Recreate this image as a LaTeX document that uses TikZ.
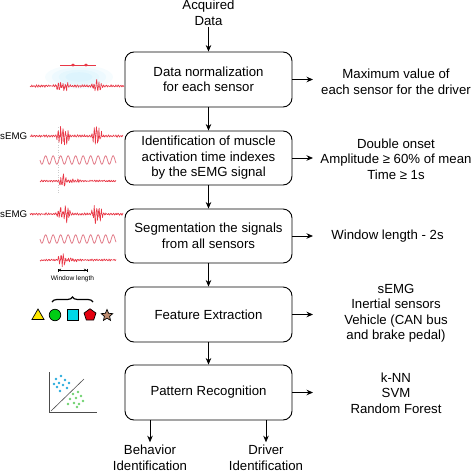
\documentclass[tikz,border=0pt]{standalone}
\usepackage{fontspec}
\setmainfont{Liberation Sans}
\usetikzlibrary{arrows.meta,shapes.geometric,decorations.pathreplacing}
\definecolor{sigred}{RGB}{232,55,70}
\definecolor{sinepink}{RGB}{226,125,138}
\definecolor{ptblue}{RGB}{40,170,220}
\definecolor{ptgreen}{RGB}{110,210,110}
\definecolor{shyellow}{RGB}{255,232,0}
\definecolor{shgreen}{RGB}{0,205,20}
\definecolor{shcyan}{RGB}{0,215,230}
\definecolor{shred}{RGB}{228,0,15}
\definecolor{shbrown}{RGB}{190,140,112}
\begin{document}
\begin{tikzpicture}[x=1pt,y=-1pt,
  box/.style={draw, line width=0.9pt, rounded corners=9pt, minimum width=167pt, align=center, font=\fontsize{13.2}{15.5}\selectfont, inner sep=0pt},
  lab/.style={align=center, font=\fontsize{13.2}{15.5}\selectfont, inner sep=1pt},
  arr/.style={-{Stealth[length=6.5pt,width=5.5pt]}, line width=0.8pt},
  sig/.style={color=sigred, line width=0.65pt, line join=round},
  sine/.style={color=sinepink, line width=0.8pt},
  small/.style={font=\fontsize{9.7}{11}\selectfont, inner sep=0pt},
  shp/.style={draw=black, line width=0.7pt, inner sep=0pt},
  dotb/.style={fill=ptblue, circle, inner sep=0pt, minimum size=2.6pt},
  dotg/.style={fill=ptgreen, circle, inner sep=0pt, minimum size=2.6pt}
]
\useasboundingbox (0,0) rectangle (474,474);

% ---------- main column ----------
\node[lab] (in) at (208.5,13) {Acquired\\Data};
\node[box, minimum height=55pt] (b1) at (208.5,79.5) {Data normalization\\for each sensor};
\node[box, minimum height=54pt] (b2) at (208.5,158) {Identification of muscle\\activation time indexes\\by the sEMG signal};
\node[box, minimum height=54pt] (b3) at (208.5,236) {Segmentation the signals\\from all sensors};
\node[box, minimum height=55pt] (b4) at (208.5,314.5) {Feature Extraction};
\node[box, minimum height=55pt] (b5) at (208.5,392.5) {Pattern Recognition};

\draw[arr] (in) -- (b1);
\draw[arr] (b1) -- (b2);
\draw[arr] (b2) -- (b3);
\draw[arr] (b3) -- (b4);
\draw[arr] (b4) -- (b5);

% ---------- right column ----------
\node[lab] (r1) at (396,82) {Maximum value of\\each sensor for the driver};
\node[lab] (r2) at (396,159) {Double onset\\Amplitude ≥ 60\% of mean\\Time ≥ 1s};
\node[lab] (r3) at (387.5,236) {Window length - 2s};
\node[lab] (r4) at (396,313.5) {sEMG\\Inertial sensors\\Vehicle (CAN bus\\and brake pedal)};
\node[lab] (r5) at (396,393) {k-NN\\SVM\\Random Forest};

\coordinate (e1) at (313,79.5);
\coordinate (e2) at (313,158);
\coordinate (e3) at (313,236);
\coordinate (e4) at (313,314.5);
\coordinate (e5) at (313,392.5);
\draw[arr] (b1.east) -- (e1);
\draw[arr] (b2.east) -- (e2);
\draw[arr] (b3.east) -- (e3);
\draw[arr] (b4.east) -- (e4);
\draw[arr] (b5.east) -- (e5);

% ---------- bottom outputs ----------
\node[lab] (beh) at (150,458) {Behavior\\Identification};
\node[lab] (drv) at (266,458) {Driver\\Identification};
\draw[arr, shorten >=2pt] (b5.south -| beh) -- (beh.north);
\draw[arr, shorten >=2pt] (b5.south -| drv) -- (drv.north);

% ---------- left illustrations ----------
\pgfmathsetseed{7}
% row 1 glow
\foreach \s in {1.0,0.8,0.6,0.4}
  \fill[cyan, opacity=0.035] (79,77) ellipse ({34*\s} and {12*\s});
\draw[sigred, line width=0.6pt] (60,65) -- (96,65);
\fill[sigred] (73,63.5) -- (75,65) -- (73,66.5) -- (71,65) -- cycle;
\fill[sigred] (86,63.5) -- (88,65) -- (86,66.5) -- (84,65) -- cycle;
\draw[sig] plot[domain=0:94, samples=260]
  ({30+\x},{86 + (1.4 + 6.5*max(0,1-(\x-32)*(\x-32)/50) + 6.5*max(0,1-(\x-67)*(\x-67)/36))*(0.55*sin(\x*150)+0.45*rand)});

% row 2
\draw[gray!40, dotted, line width=0.5pt] (58,127) -- (58,194);
\node[small, anchor=west] (lab2) at (0,136) {sEMG};
\draw[sig] plot[domain=0:93, samples=260]
  ({30+\x},{136 + (1.4 + 9.5*max(0,1-(\x-33)*(\x-33)/55) + 9*max(0,1-(\x-67)*(\x-67)/40))*(0.55*sin(\x*150)+0.45*rand)});
\draw[sine] plot[domain=40:116, samples=200] ({\x},{160 + 4.2*sin((\x-40)*48)});
\draw[sig] plot[domain=0:76, samples=220]
  ({40+\x},{181 + (1.1 + 7*max(0,1-(\x-23)*(\x-23)/22) + 1.5*max(0,1-(\x-33)*(\x-33)/60))*(0.55*sin(\x*150)+0.45*rand)});

% row 3
\node[small, anchor=west] (lab3) at (0,214) {sEMG};
\draw[sig] plot[domain=0:93, samples=260]
  ({30+\x},{214 + (1.4 + 9*max(0,1-(\x-34)*(\x-34)/55) + 9*max(0,1-(\x-67)*(\x-67)/40))*(0.55*sin(\x*150)+0.45*rand)});
\draw[sine] plot[domain=40:116, samples=200] ({\x},{239 + 4.2*sin((\x-40)*48)});
\draw[sig] plot[domain=0:76, samples=220]
  ({40+\x},{260 + (1.1 + 7*max(0,1-(\x-22)*(\x-22)/22) + 1.5*max(0,1-(\x-32)*(\x-32)/60))*(0.55*sin(\x*150)+0.45*rand)});
\coordinate (w1) at (58,270);
\coordinate (w2) at (87,270);
\draw[{Bar[width=3pt]Stealth[length=2.5pt,width=2.5pt]}-{Stealth[length=2.5pt,width=2.5pt]Bar[width=3pt]}, line width=0.5pt] (w1) -- (w2);
\node[font=\fontsize{6.6}{8}\selectfont, inner sep=0pt] (wl) at (72.5,279) {Window length};

% row 4: brace and shapes
\coordinate (br1) at (52,302);
\coordinate (br2) at (93,302);
\draw[decorate, decoration={brace, amplitude=5pt}, line width=1.2pt] (br1) -- (br2);
\node[shp, fill=shyellow, regular polygon, regular polygon sides=3, minimum size=14pt] (t1) at (38,316) {};
\node[shp, fill=shgreen, circle, minimum size=11.5pt] (t2) at (55,315) {};
\node[shp, fill=shcyan, rectangle, minimum size=10.5pt] (t3) at (73,315) {};
\node[shp, fill=shred, regular polygon, regular polygon sides=5, minimum size=12.5pt] (t4) at (90,315) {};
\node[shp, fill=shbrown, star, star points=5, star point ratio=2.2, minimum size=12pt] (t5) at (107,315.5) {};

% row 5: scatter plot
\draw[gray!60!black, line width=0.6pt] (49,372) -- (49,412) -- (97,412);
\draw[gray!60!black, line width=0.6pt] (51,411) -- (84,379);
\foreach \p [count=\i] in {(61,376),(56,379),(65,380),(59,383),(69,383),(63,385),(57,387),(67,388),(60,391),(54,384)}
  \node[dotb] (pb\i) at \p {};
\foreach \p [count=\i] in {(78,392),(73,394),(81,396),(76,398),(70,399),(83,401),(74,403),(79,404),(68,404),(77,407)}
  \node[dotg] (pg\i) at \p {};
\end{tikzpicture}
\end{document}
